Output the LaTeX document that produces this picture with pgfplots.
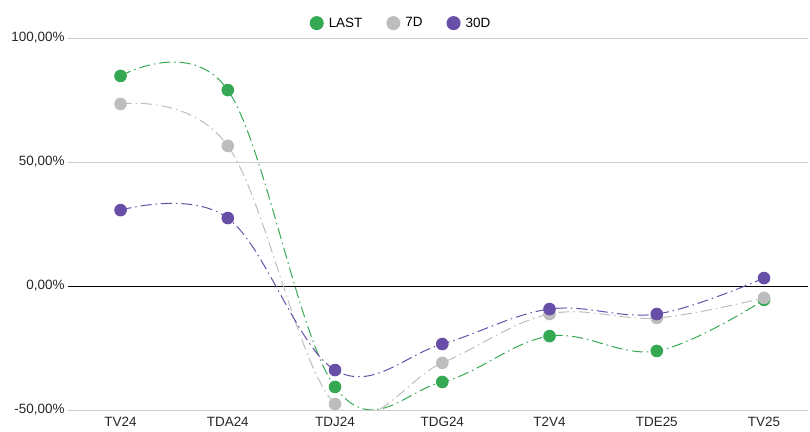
\documentclass[border=0pt]{standalone}
\usepackage{pgfplots}
\pgfplotsset{compat=1.18}
\usepackage{pgfplotstable}
\usepackage{fontspec}
\setmainfont{Liberation Sans}
\definecolor{cLast}{HTML}{34A853}
\definecolor{c7D}{HTML}{BDBDBD}
\definecolor{c30D}{HTML}{674EA7}
\definecolor{gridc}{HTML}{CCCCCC}
\pgfplotstableread{
x last d7 d30
0 84.7 73.4 30.6
1 79.0 56.5 27.4
2 -40.7 -47.6 -33.9
3 -38.7 -31.0 -23.4
4 -20.2 -11.3 -9.3
5 -26.2 -12.9 -11.3
6 -5.6 -4.8 3.2
}\data
\begin{document}
\begin{tikzpicture}
\path[use as bounding box] (-68bp,-22bp) rectangle (742bp,410bp);
\begin{axis}[
  scale only axis,
  width=740bp, height=372bp,
  xmin=-0.49, xmax=6.41,
  ymin=-50, ymax=100,
  axis line style={draw=none},
  xtick={0,...,6},
  xticklabels={TV24,TDA24,TDJ24,TDG24,T2V4,TDE25,TV25},
  ytick={-50,50,100},
  yticklabels={{-50{,}00\%},{50{,}00\%},{100{,}00\%}},
  extra y ticks={0},
  extra y tick labels={{0{,}00\%}},
  extra y tick style={grid style={black, line width=0.8pt}},
  ymajorgrids,
  grid style={gridc, line width=0.8pt},
  major tick length=0pt,
  tick label style={font=\fontsize{13.5}{15}\selectfont, text=black!85},
  xticklabel style={yshift=-4bp},
  yticklabel style={xshift=0bp},
  clip=true,
  legend columns=3,
  legend style={at={(0.45,1.04)}, anchor=center, draw=none, fill=none,
    font=\fontsize{13.5}{15}\selectfont,
    /tikz/every even column/.append style={column sep=22bp}},
  legend image code/.code={\path[draw=none,fill=none] (-7bp,-7bp) rectangle (10bp,7bp);\fill[#1,solid] (0bp,0bp) circle (6.5bp);},
  every axis plot/.append style={line width=1.0pt, smooth, tension=0.62,
    dash pattern=on 11bp off 4bp on 1.5bp off 4bp,
    mark=*, mark size=5.8bp, mark options={solid}},
]
\addplot[color=cLast] table[x=x,y=last] {\data};
\addplot[color=c7D] table[x=x,y=d7] {\data};
\addplot[color=c30D] table[x=x,y=d30] {\data};
\legend{LAST,7D,30D}
\end{axis}
\end{tikzpicture}
\end{document}
